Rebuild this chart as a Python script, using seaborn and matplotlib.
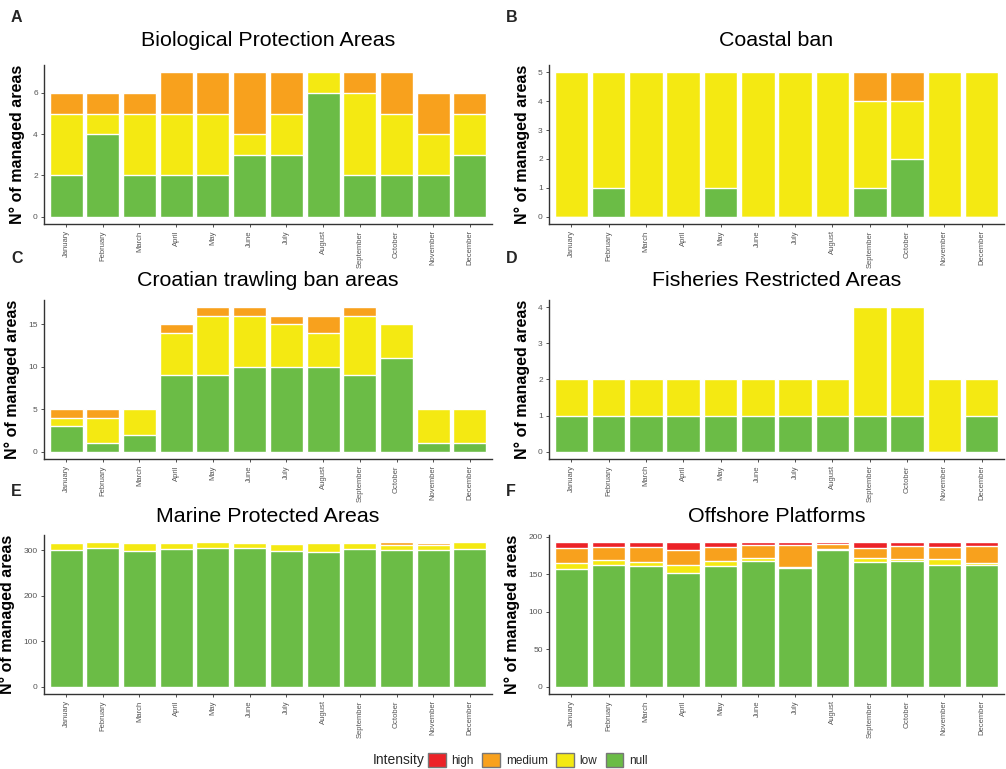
import numpy as np
import pandas as pd
import matplotlib
matplotlib.use("Agg")
import matplotlib.pyplot as plt
from matplotlib.patches import Patch
import seaborn as sns

months = ["January", "February", "March", "April", "May", "June", "July",
          "August", "September", "October", "November", "December"]

# Panel A - Biological Protection Areas
bpa_null = [2, 4, 2, 2, 2, 3, 3, 6, 2, 2, 2, 3]
bpa_low = [3, 1, 3, 3, 3, 1, 2, 1, 4, 3, 2, 2]
bpa_medium = [1, 1, 1, 2, 2, 3, 2, 0, 1, 2, 2, 1]
bpa_high = [0] * 12

# Panel B - Coastal ban
cb_null = [0, 1, 0, 0, 1, 0, 0, 0, 1, 2, 0, 0]
cb_low = [5, 4, 5, 5, 4, 5, 5, 5, 3, 2, 5, 5]
cb_medium = [0, 0, 0, 0, 0, 0, 0, 0, 1, 1, 0, 0]
cb_high = [0] * 12

# Panel C - Croatian trawling ban areas
ctb_null = [3, 1, 2, 9, 9, 10, 10, 10, 9, 11, 1, 1]
ctb_low = [1, 3, 3, 5, 7, 6, 5, 4, 7, 4, 4, 4]
ctb_medium = [1, 1, 0, 1, 1, 1, 1, 2, 1, 0, 0, 0]
ctb_high = [0] * 12

# Panel D - Fisheries Restricted Areas
fra_null = [1, 1, 1, 1, 1, 1, 1, 1, 1, 1, 0, 1]
fra_low = [1, 1, 1, 1, 1, 1, 1, 1, 3, 3, 2, 1]
fra_medium = [0] * 12
fra_high = [0] * 12

# Panel E - Marine Protected Areas
mpa_null = [301, 306, 299, 303, 306, 306, 299, 297, 303, 302, 302, 303]
mpa_low = [15, 12, 17, 13, 12, 11, 16, 19, 13, 11, 9, 15]
mpa_medium = [2, 0, 2, 1, 0, 1, 2, 2, 2, 5, 6, 0]
mpa_high = [0, 0, 0, 0, 0, 0, 0, 0, 0, 0, 1, 0]

# Panel F - Offshore Platforms
op_null = [157, 162, 161, 152, 161, 168, 158, 182, 167, 168, 162, 162]
op_low = [8, 7, 5, 10, 7, 4, 2, 2, 5, 2, 9, 3]
op_medium = [20, 18, 20, 21, 18, 17, 29, 7, 13, 18, 15, 23]
op_high = [8, 6, 7, 10, 7, 4, 4, 2, 8, 5, 7, 5]

levels = ["high", "medium", "low", "null"]
colors = {"high": "#EC2227", "medium": "#F8A11D", "low": "#F4E912", "null": "#6BBC46"}

panels = [
    ("A", "Biological Protection Areas", bpa_null, bpa_low, bpa_medium, bpa_high, [0, 2, 4, 6]),
    ("B", "Coastal ban", cb_null, cb_low, cb_medium, cb_high, [0, 1, 2, 3, 4, 5]),
    ("C", "Croatian trawling ban areas", ctb_null, ctb_low, ctb_medium, ctb_high, [0, 5, 10, 15]),
    ("D", "Fisheries Restricted Areas", fra_null, fra_low, fra_medium, fra_high, [0, 1, 2, 3, 4]),
    ("E", "Marine Protected Areas", mpa_null, mpa_low, mpa_medium, mpa_high, [0, 100, 200, 300]),
    ("F", "Offshore Platforms", op_null, op_low, op_medium, op_high, [0, 50, 100, 150, 200]),
]

sns.set_theme(style="white")
plt.rcParams['font.family'] = ['Liberation Sans', 'DejaVu Sans']

W, H = 1006, 769
fig = plt.figure(figsize=(W / 100, H / 100), dpi=100)

lefts = [44, 549]
widths = [448, 455]
tops = [65, 300, 535]
title_y = [41, 281, 517]
axh = 159

for i, (letter, title, n, lo, me, hi, yticks) in enumerate(panels):
    col = i % 2
    row = i // 2
    left = lefts[col] / W
    bottom = 1 - (tops[row] + axh) / H
    ax = fig.add_axes([left, bottom, widths[col] / W, axh / H])
    n = np.array(n); lo = np.array(lo); me = np.array(me); hi = np.array(hi)
    stacks = {
        "high": n + lo + me + hi,
        "medium": n + lo + me,
        "low": n + lo,
        "null": n,
    }
    for lev in levels:
        df = pd.DataFrame({"month": months, "value": stacks[lev]})
        sns.barplot(data=df, x="month", y="value", order=months, color=colors[lev],
                    saturation=1, width=0.9, edgecolor="white", linewidth=1.0,
                    errorbar=None, ax=ax)
    ymax = stacks["high"].max()
    ax.set_ylim(-0.05 * ymax, 1.05 * ymax)
    ax.set_xlim(-0.6, 11.6)
    ax.set_yticks(yticks)
    ax.set_yticklabels([str(t) for t in yticks], fontsize=6, color="#555555")
    ax.set_xticks(range(12))
    ax.set_xticklabels(months, rotation=90, fontsize=5.5, color="#555555")
    ax.tick_params(axis="both", which="both", length=2.5, width=0.6, color="#333333", pad=2,
                   bottom=True, left=True)
    for s in ["top", "right"]:
        ax.spines[s].set_visible(False)
    for s in ["left", "bottom"]:
        ax.spines[s].set_color("#333333")
        ax.spines[s].set_linewidth(1.0)
    ax.set_xlabel("")
    ax.set_ylabel("N° of managed areas", fontsize=11.5, fontweight="bold", color="black", labelpad=6)
    cx = (lefts[col] + widths[col] / 2) / W
    fig.text(cx, 1 - title_y[row] / H, title, fontsize=15.4, color="black",
             ha="center", va="center")
    ax.grid(False)
    ax.set_facecolor("white")
    lx = 11 / W if col == 0 else 506 / W
    ly = 1 - [18, 259, 492][row] / H
    fig.text(lx, ly, letter, fontsize=11.5, fontweight="bold", ha="left", va="center")

handles = [Patch(facecolor=colors[l], edgecolor="#777777", linewidth=1.0) for l in levels]
fig.text(425 / W, 1 - 760 / H, "Intensity", fontsize=10, ha="right", va="center")
fig.legend(handles, levels, ncol=4, loc="center left",
           bbox_to_anchor=(428 / W, 1 - 760 / H), frameon=False,
           handlelength=1.5, handleheight=1.5, handletextpad=0.5, columnspacing=0.7,
           fontsize=8.5, borderaxespad=0, borderpad=0)

fig.savefig("out.png", dpi=100, facecolor="white")
